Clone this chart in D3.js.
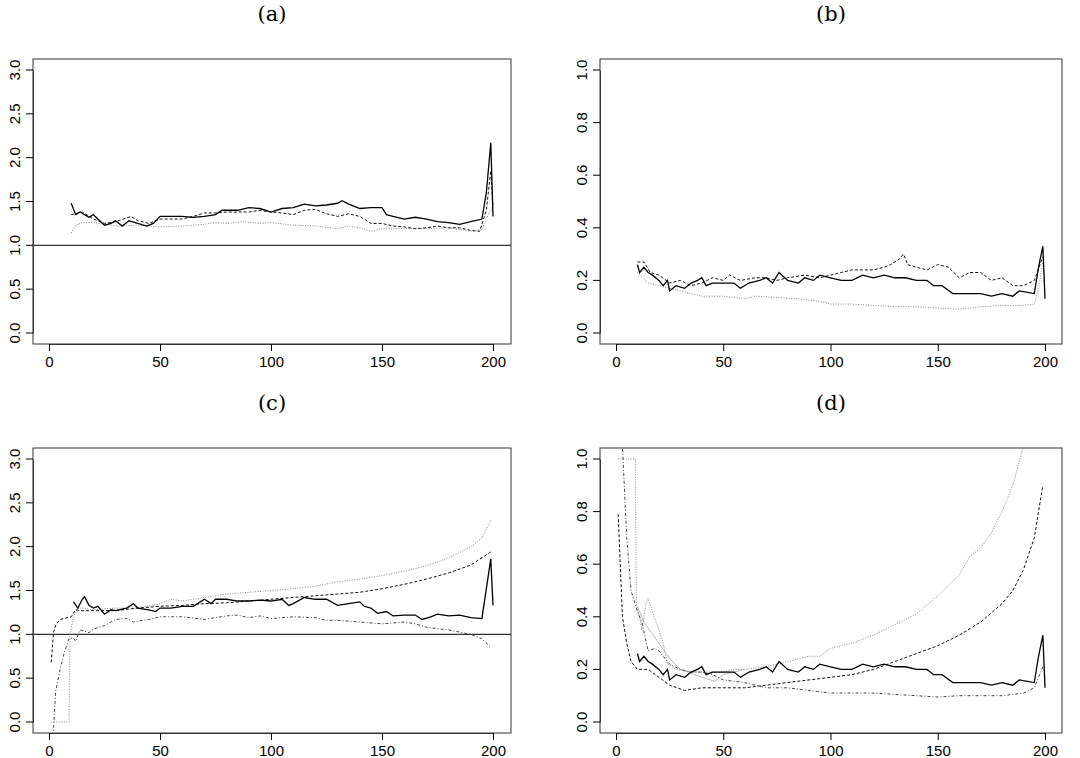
<!DOCTYPE html>
<html><head><meta charset="utf-8">
<script src="https://cdn.jsdelivr.net/npm/d3@7"></script>
<style>body{margin:0;background:#fff}</style>
</head><body>
<script>
// panel (a)
var aSolid = [[10,1.48],[12,1.35],[14,1.38],[16,1.35],[18,1.32],[20,1.35],[22,1.3],[25,1.23],[28,1.25],[30,1.28],[33,1.22],[36,1.28],[40,1.25],[44,1.22],[47,1.25],[50,1.33],[55,1.33],[60,1.33],[65,1.32],[70,1.33],[75,1.35],[78,1.4],[80,1.4],[85,1.4],[90,1.43],[95,1.42],[100,1.38],[105,1.42],[110,1.43],[115,1.47],[120,1.45],[125,1.46],[130,1.48],[132,1.51],[135,1.47],[140,1.42],[145,1.43],[150,1.43],[152,1.35],[155,1.33],[160,1.3],[165,1.32],[170,1.3],[175,1.27],[180,1.26],[185,1.24],[190,1.27],[195,1.3],[197,1.6],[199,2.17],[200,1.33]];
var aDash = [[10,1.35],[15,1.38],[20,1.3],[25,1.25],[30,1.27],[37,1.33],[40,1.28],[45,1.25],[50,1.3],[55,1.3],[60,1.3],[65,1.33],[70,1.37],[75,1.37],[80,1.38],[90,1.38],[95,1.4],[100,1.38],[105,1.37],[110,1.35],[115,1.4],[120,1.41],[125,1.36],[130,1.33],[135,1.36],[140,1.33],[145,1.25],[150,1.25],[155,1.22],[160,1.21],[165,1.19],[170,1.2],[175,1.22],[180,1.2],[185,1.2],[190,1.17],[194,1.16],[197,1.4],[199,1.85],[200,1.45]];
var aDot = [[10,1.14],[12,1.23],[15,1.26],[20,1.26],[25,1.24],[30,1.22],[40,1.23],[50,1.21],[60,1.22],[70,1.24],[75,1.26],[80,1.25],[87,1.27],[95,1.25],[100,1.26],[110,1.23],[120,1.22],[130,1.19],[135,1.22],[140,1.2],[145,1.16],[150,1.19],[160,1.19],[170,1.19],[180,1.2],[190,1.16],[195,1.18],[198,1.35],[200,1.43]];
// panel (b)
var bSolid = [[10,0.26],[11,0.23],[13,0.25],[15,0.23],[17,0.22],[20,0.2],[22,0.18],[24,0.2],[25,0.16],[28,0.18],[32,0.17],[35,0.19],[38,0.2],[40,0.21],[42,0.18],[45,0.19],[50,0.19],[55,0.19],[58,0.17],[62,0.19],[67,0.2],[70,0.21],[73,0.19],[76,0.23],[80,0.2],[85,0.19],[88,0.21],[92,0.2],[95,0.22],[100,0.21],[105,0.2],[110,0.2],[115,0.22],[120,0.21],[125,0.22],[130,0.21],[135,0.21],[140,0.2],[145,0.2],[148,0.18],[152,0.18],[157,0.15],[160,0.15],[165,0.15],[170,0.15],[175,0.14],[180,0.15],[185,0.14],[188,0.16],[195,0.15],[197,0.25],[199,0.33],[200,0.13]];
var bDash = [[10,0.27],[13,0.27],[16,0.23],[20,0.22],[25,0.19],[30,0.2],[35,0.18],[40,0.19],[45,0.21],[50,0.2],[53,0.22],[58,0.2],[65,0.21],[70,0.21],[75,0.2],[80,0.21],[88,0.22],[95,0.21],[100,0.22],[105,0.23],[110,0.24],[115,0.24],[120,0.24],[125,0.25],[128,0.26],[132,0.28],[134,0.3],[136,0.26],[140,0.25],[145,0.24],[150,0.26],[155,0.25],[160,0.21],[165,0.23],[170,0.23],[175,0.2],[180,0.21],[185,0.18],[190,0.18],[195,0.2],[199,0.29]];
var bDot = [[10,0.23],[15,0.19],[20,0.18],[25,0.17],[30,0.16],[35,0.15],[40,0.14],[50,0.14],[60,0.13],[65,0.14],[75,0.135],[85,0.13],[95,0.12],[100,0.11],[110,0.11],[120,0.105],[130,0.1],[140,0.1],[150,0.095],[160,0.09],[170,0.1],[180,0.105],[190,0.105],[195,0.11],[197,0.17],[199,0.27],[200,0.2]];
// panel (c)
var cSolid = [[11,1.37],[13,1.3],[15,1.4],[16,1.43],[18,1.33],[20,1.3],[22,1.32],[25,1.23],[28,1.28],[30,1.27],[35,1.3],[38,1.35],[40,1.3],[45,1.28],[48,1.26],[50,1.3],[55,1.3],[60,1.32],[65,1.32],[70,1.4],[73,1.35],[75,1.4],[80,1.4],[85,1.38],[90,1.38],[95,1.39],[100,1.38],[105,1.4],[108,1.33],[110,1.35],[115,1.42],[120,1.4],[125,1.4],[130,1.33],[135,1.35],[140,1.37],[142,1.32],[145,1.3],[148,1.24],[152,1.26],[155,1.21],[160,1.22],[165,1.22],[168,1.17],[172,1.2],[175,1.23],[180,1.21],[185,1.22],[190,1.19],[195,1.18],[199,1.86],[200,1.33]];
var cDash = [[1,0.68],[2,1.02],[3,1.1],[5,1.17],[10,1.2],[12,1.28],[15,1.27],[20,1.27],[30,1.27],[40,1.3],[50,1.32],[60,1.33],[70,1.35],[80,1.36],[90,1.38],[100,1.4],[110,1.42],[120,1.44],[130,1.46],[140,1.48],[150,1.52],[160,1.57],[170,1.63],[180,1.7],[190,1.79],[199,1.94]];
var cDot = [[1,0],[9,0],[9.5,1.0],[11,1.2],[13,1.3],[15,1.3],[20,1.28],[30,1.3],[40,1.3],[50,1.35],[55,1.4],[60,1.38],[70,1.42],[80,1.46],[90,1.48],[100,1.5],[110,1.52],[120,1.55],[130,1.6],[140,1.63],[150,1.67],[160,1.72],[170,1.78],[180,1.87],[190,2.0],[195,2.1],[199,2.3]];
var cDotDash = [[2,-0.1],[3,0.35],[5,0.6],[7,0.8],[9,0.95],[11,0.96],[12,0.92],[14,1.05],[18,1.02],[20,1.06],[25,1.1],[30,1.17],[35,1.18],[38,1.14],[45,1.17],[50,1.2],[60,1.2],[70,1.17],[80,1.21],[85,1.22],[90,1.19],[95,1.21],[100,1.18],[110,1.2],[120,1.19],[125,1.16],[130,1.16],[140,1.14],[150,1.12],[160,1.14],[165,1.12],[170,1.08],[180,1.05],[190,1.0],[195,0.95],[199,0.85]];
// panel (d)
var dDot = [[1,1.0],[9,1.0],[9.5,0.45],[11,0.4],[12,0.35],[14,0.45],[15,0.47],[17,0.42],[20,0.35],[22,0.3],[24,0.22],[28,0.2],[35,0.19],[40,0.19],[50,0.19],[55,0.2],[60,0.2],[70,0.21],[80,0.23],[90,0.25],[95,0.25],[100,0.28],[110,0.3],[120,0.33],[130,0.37],[140,0.41],[150,0.48],[155,0.52],[160,0.56],[165,0.63],[170,0.66],[175,0.72],[180,0.8],[185,0.9],[190,1.05]];
var dDash = [[1,0.79],[2,0.6],[3,0.4],[5,0.3],[7,0.23],[10,0.2],[15,0.2],[20,0.17],[25,0.14],[32,0.12],[40,0.13],[50,0.13],[60,0.13],[70,0.14],[80,0.15],[90,0.16],[100,0.17],[110,0.18],[120,0.2],[130,0.23],[140,0.26],[150,0.29],[160,0.33],[170,0.38],[180,0.45],[185,0.5],[190,0.58],[195,0.7],[199,0.9]];
var dDotDash = [[3,1.05],[5,0.7],[7,0.5],[10,0.42],[12,0.38],[15,0.27],[18,0.28],[20,0.27],[25,0.22],[30,0.2],[35,0.19],[40,0.19],[45,0.18],[50,0.16],[60,0.15],[70,0.13],[80,0.13],[90,0.12],[100,0.11],[110,0.11],[120,0.11],[130,0.105],[140,0.1],[150,0.095],[160,0.1],[170,0.1],[180,0.1],[190,0.11],[195,0.13],[199,0.21]];
var dGray = [[10,0.44],[13,0.38],[20,0.3],[25,0.24],[30,0.2],[40,0.17],[46,0.155],[50,0.18],[60,0.2]];

var xTicks = [0, 50, 100, 150, 200];
var yTicksA = [0, 0.5, 1, 1.5, 2, 2.5, 3];
var yTicksB = [0, 0.2, 0.4, 0.6, 0.8, 1];

var styles = {
	solid: {stroke: "#000", width: 1.3, dash: null},
	dash: {stroke: "#111", width: 1, dash: "3,2"},
	dot: {stroke: "#888", width: 1, dash: "1,1.5"},
	dotdash: {stroke: "#444", width: 1, dash: "1,2,3,2"},
	gray: {stroke: "#aaa", width: 0.8, dash: null}
};

var svg = d3.select("body").append("svg").attr("width", 1080).attr("height", 758);

function panel(id, title, box, xr, yr, yTicks, ymax, series, hline) {
	var x = d3.scaleLinear().domain([0, 200]).range(xr);
	var y = d3.scaleLinear().domain([0, ymax]).range(yr);
	var g = svg.append("g");
	g.append("clipPath").attr("id", "clip" + id).append("rect")
		.attr("x", box[0]).attr("y", box[1]).attr("width", box[2] - box[0]).attr("height", box[3] - box[1]);
	g.append("text").text(title)
		.attr("x", (box[0] + box[2]) / 2).attr("y", box[1] - 38)
		.attr("text-anchor", "middle").attr("font-family", "DejaVu Serif").attr("font-size", "21px");
	var line = d3.line().x(function(d) { return x(d[0]); }).y(function(d) { return y(d[1]); });
	var lg = g.append("g").attr("clip-path", "url(#clip" + id + ")");
	if (hline) {
		lg.append("line").attr("x1", box[0]).attr("x2", box[2]).attr("y1", y(1)).attr("y2", y(1))
			.attr("stroke", "#333").attr("stroke-width", 1.2);
	}
	series.forEach(function(s) {
		var st = styles[s[1]];
		lg.append("path").datum(s[0]).attr("d", line).attr("fill", "none")
			.attr("stroke", st.stroke).attr("stroke-width", st.width)
			.attr("stroke-dasharray", st.dash);
	});
	g.append("rect").attr("x", box[0]).attr("y", box[1]).attr("width", box[2] - box[0]).attr("height", box[3] - box[1])
		.attr("fill", "none").attr("stroke", "#333").attr("stroke-width", 1);
	var xa = g.append("g").attr("transform", "translate(0," + box[3] + ")")
		.call(d3.axisBottom(x).tickValues(xTicks).tickSize(7).tickSizeOuter(0).tickFormat(d3.format("d")));
	xa.select(".domain").attr("stroke", "#333");
	xa.selectAll("text").attr("font-family", "Liberation Sans").attr("font-size", "15px").attr("dy", "0.85em").attr("fill", "#000");
	var ya = g.append("g").attr("transform", "translate(" + box[0] + ",0)")
		.call(d3.axisLeft(y).tickValues(yTicks).tickSize(7).tickSizeOuter(0).tickFormat(d3.format(".1f")));
	ya.select(".domain").attr("stroke", "#333");
	ya.selectAll("text").attr("font-family", "Liberation Sans").attr("font-size", "15px")
		.attr("text-anchor", "middle").attr("dy", 0).attr("x", 0)
		.attr("transform", function(d) { return "translate(-13," + y(d) + ") rotate(-90)"; })
		.attr("y", 0).attr("fill", "#000");
	ya.selectAll(".tick").attr("transform", function() { return null; });
	ya.selectAll(".tick line").attr("transform", function(d) { return "translate(0," + y(d) + ")"; });
}

panel("a", "(a)", [33, 59, 511, 344], [49, 493], [333, 70], yTicksA, 3,
	[[aDot, "dot"], [aDash, "dash"], [aSolid, "solid"]], true);
panel("b", "(b)", [600, 59, 1062, 344], [616, 1045], [333, 70], yTicksB, 1,
	[[bDot, "dot"], [bDash, "dash"], [bSolid, "solid"]], false);
panel("c", "(c)", [33, 448, 511, 733], [49, 493], [722, 459], yTicksA, 3,
	[[cDot, "dot"], [cDotDash, "dotdash"], [cDash, "dash"], [cSolid, "solid"]], true);
panel("d", "(d)", [600, 448, 1062, 733], [616, 1045], [722, 459], yTicksB, 1,
	[[dGray, "gray"], [dDot, "dot"], [dDotDash, "dotdash"], [dDash, "dash"], [bSolid, "solid"]], false);
</script>
</body></html>
